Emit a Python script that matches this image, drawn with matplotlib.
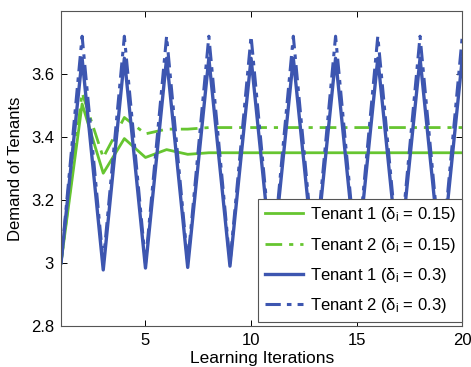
import matplotlib
matplotlib.use("Agg")
import matplotlib.pyplot as plt

iterations = list(range(1, 21))
t1_d015 = [3.0, 3.505, 3.285, 3.395, 3.335, 3.36, 3.345, 3.35, 3.35, 3.35,
           3.35, 3.35, 3.35, 3.35, 3.35, 3.35, 3.35, 3.35, 3.35, 3.35]
t2_d015 = [3.0, 3.54, 3.335, 3.462, 3.41, 3.425, 3.425, 3.43, 3.43, 3.43,
           3.43, 3.43, 3.43, 3.43, 3.43, 3.43, 3.43, 3.43, 3.43, 3.43]
t1_d03 = [3.0, 3.65, 2.978, 3.65, 2.984, 3.65, 2.986, 3.65, 2.99, 3.65,
          2.99, 3.65, 2.99, 3.65, 2.99, 3.65, 2.99, 3.65, 2.99, 3.65]
t2_d03 = [3.0, 3.72, 3.0, 3.72, 3.0, 3.72, 3.0, 3.72, 3.0, 3.72,
          3.0, 3.72, 3.0, 3.72, 3.0, 3.72, 3.0, 3.72, 3.0, 3.72]
labels = ["Tenant 1 (δ$_\\mathregular{i}$ = 0.15)", "Tenant 2 (δ$_\\mathregular{i}$ = 0.15)",
          "Tenant 1 (δ$_\\mathregular{i}$ = 0.3)", "Tenant 2 (δ$_\\mathregular{i}$ = 0.3)"]

green = "#66c530"
blue = "#3d56b0"

plt.rcParams['font.family'] = ['Liberation Sans', 'DejaVu Sans']
plt.rcParams['mathtext.fontset'] = 'custom'
plt.rcParams['mathtext.rm'] = 'Liberation Sans'
plt.rcParams['mathtext.it'] = 'Liberation Sans:italic'
fig = plt.figure(figsize=(4.71, 3.67), dpi=100)
ax = fig.add_axes([0.1295, 0.1117, 0.852, 0.8583])

ax.plot(iterations, t1_d015, color=green, lw=2.0, label=labels[0])
ax.plot(iterations, t2_d015, color=green, lw=2.0, ls=(0, (6, 2.5, 1.5, 2.5)), label=labels[1])
ax.plot(iterations, t1_d03, color=blue, lw=2.4, label=labels[2])
ax.plot(iterations, t2_d03, color=blue, lw=2.2, ls=(0, (5, 2, 1.5, 2)), label=labels[3])

ax.set_xlim(1, 20)
ax.set_ylim(2.8, 3.8)
ax.set_xticks([5, 10, 15, 20])
ax.set_yticks([2.8, 3.0, 3.2, 3.4, 3.6])
ax.set_yticklabels(["2.8", "3", "3.2", "3.4", "3.6"])
ax.tick_params(direction='in', top=True, right=True, labelsize=12, length=4, width=0.7, pad=5)
for s in ax.spines.values():
    s.set_linewidth(0.8)
    s.set_color("#555555")

ax.set_xlabel("Learning Iterations", fontsize=12.5, labelpad=2)
ax.set_ylabel("Demand of Tenants", fontsize=12, labelpad=6)

leg = ax.legend(loc='lower right', bbox_to_anchor=(1.0, 0.013), fontsize=12, frameon=True,
                fancybox=False, edgecolor="#555555", framealpha=1, handlelength=2.3,
                handletextpad=0.4, borderaxespad=0.0, labelspacing=0.68, borderpad=0.4)
leg.get_frame().set_linewidth(0.8)

fig.savefig("out.png", dpi=100)
